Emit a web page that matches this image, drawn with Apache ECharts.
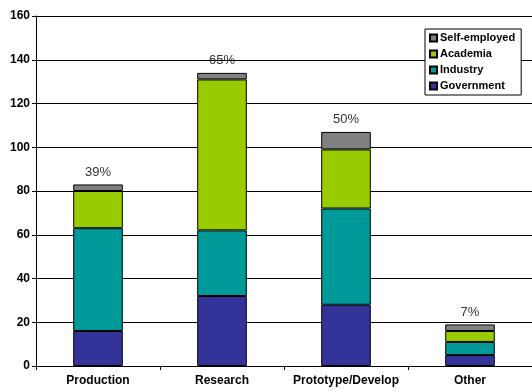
<!DOCTYPE html>
<html>
<head>
<meta charset="utf-8">
<script src="https://cdn.jsdelivr.net/npm/echarts@6/dist/echarts.min.js"></script>
<style>
  html, body { margin: 0; padding: 0; background: #fff; }
  #chart { width: 532px; height: 392px; }
</style>
</head>
<body>
<div id="chart"></div>
<script>
const categories = ['Production', 'Research', 'Prototype/Develop', 'Other'];
const government = [16, 32, 28, 5];
const industry = [47, 30, 44, 6];
const academia = [17, 69, 27, 5];
const selfEmployed = [3, 3, 8, 3];
const pctLabels = ['39%', '65%', '50%', '7%'];
const yTicks = [0, 20, 40, 60, 80, 100, 120, 140, 160];

const font = 'Arial, "Liberation Sans", sans-serif';
let chart = echarts.init(document.getElementById('chart'));

function bar(name, data, color) {
    return {
        name: name,
        type: 'bar',
        stack: 'total',
        barWidth: '40%',
        data: data,
        itemStyle: { color: color, borderColor: '#000', borderWidth: 1 }
    };
}

let series = [
    bar('Government', government, '#333399'),
    bar('Industry', industry, '#009999'),
    bar('Academia', academia, '#99cc00'),
    bar('Self-employed', selfEmployed, '#808080')
];
series[3].label = {
    show: true,
    position: 'top',
    distance: 6,
    fontFamily: font,
    fontSize: 13,
    color: '#333',
    formatter: function (p) { return pctLabels[p.dataIndex]; }
};

let option = {
    animation: false,
    backgroundColor: '#fff',
    textStyle: { fontFamily: font },
    grid: { left: 36, right: 0, top: 16, bottom: 26, containLabel: false },
    legend: {
        data: ['Self-employed', 'Academia', 'Industry', 'Government'],
        orient: 'vertical',
        left: 425,
        top: 29,
        width: 94,
        padding: [3, 6, 3, 4],
        itemGap: 4,
        itemWidth: 7,
        itemHeight: 7,
        icon: 'rect',
        backgroundColor: '#fff',
        borderColor: '#000',
        borderWidth: 1,
        borderRadius: 0,
        textStyle: { fontFamily: font, fontSize: 11, fontWeight: 'bold', color: '#000', lineHeight: 12, padding: [0, 0, 0, -2] }
    },
    xAxis: {
        type: 'category',
        data: categories,
        axisLine: { lineStyle: { color: '#000', width: 1 } },
        axisTick: { show: true, length: 4, lineStyle: { color: '#000' } },
        axisLabel: { interval: 0, fontFamily: font, fontSize: 12, fontWeight: 'bold', color: '#000', margin: 9 }
    },
    yAxis: {
        type: 'value',
        min: yTicks[0],
        max: yTicks[yTicks.length - 1],
        interval: 20,
        axisLine: { show: true, lineStyle: { color: '#000', width: 1 } },
        axisTick: { show: true, length: 4, lineStyle: { color: '#000' } },
        axisLabel: { fontFamily: font, fontSize: 12, fontWeight: 'bold', color: '#000', margin: 6 },
        splitLine: { show: true, lineStyle: { color: '#000', width: 1 } }
    },
    series: series
};
chart.setOption(option);
</script>
</body>
</html>
